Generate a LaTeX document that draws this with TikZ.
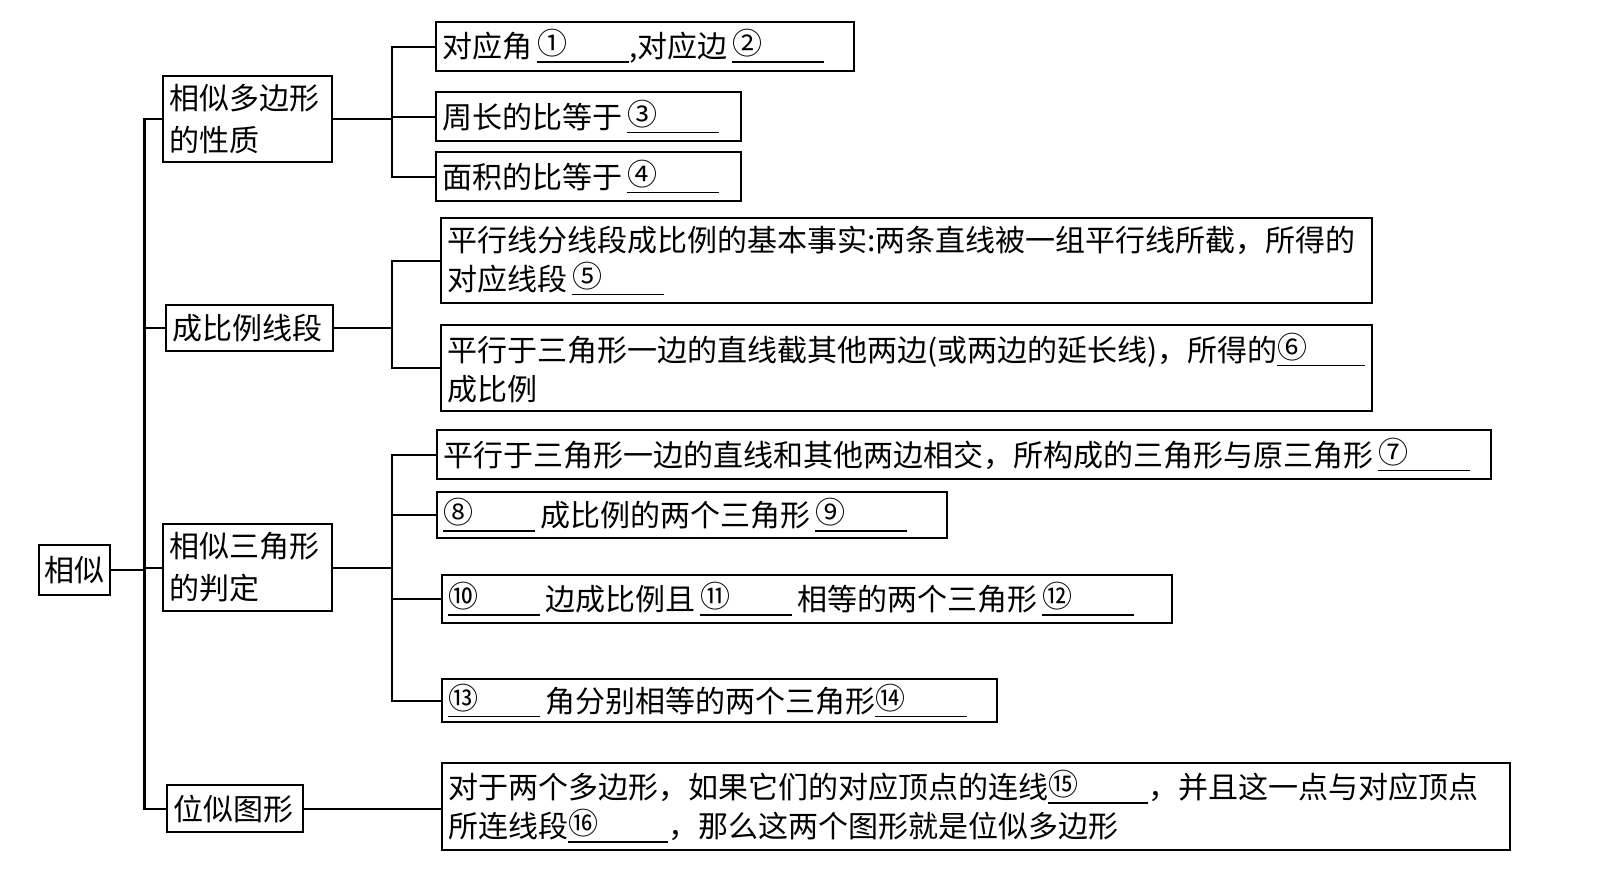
\documentclass[tikz,border=0pt]{standalone}
\usepackage{fontspec}
\setmainfont{Noto Sans CJK SC}
\newcommand\blank[2][46pt]{\rlap{\rule[-2.5pt]{#1}{0.8pt}}\makebox[#1][l]{\raisebox{1.5pt}{#2}}}
\begin{document}
\begin{tikzpicture}[x=0.5pt,y=-0.5pt,
  box/.style={draw, line width=1.1pt, inner xsep=3pt, inner ysep=0pt, anchor=north west, align=left,
    font=\fontsize{15pt}{19.5pt}\selectfont},
  conn/.style={line width=1.1pt}]
\fill[white] (0,0) rectangle (1618,873);
\useasboundingbox (0,0) rectangle (1618,873);
% level 0 and 1
\node[box, inner xsep=1pt, align=center, minimum width=35.5pt, minimum height=25pt] (root) at (38,544) {相似};
\node[box, text width=78.5pt, minimum height=43pt, font=\fontsize{15pt}{21pt}\selectfont] (p1) at (162,75) {相似多边形\\的性质};
\node[box, text width=77.5pt, minimum height=23pt] (p2) at (165,304) {成比例线段};
\node[box, text width=78.5pt, minimum height=43.5pt, font=\fontsize{15pt}{21pt}\selectfont] (p3) at (162,523) {相似三角形\\的判定};
\node[box, text width=62pt, minimum height=23.5pt] (p4) at (166,784) {位似图形};
% level 2
\node[box, text width=203pt, minimum height=24.5pt] (a1) at (435,21) {对应角\,\blank{①},对应边\,\blank{②}};
\node[box, text width=146.5pt, minimum height=24.5pt] (a2) at (435,91) {周长的比等于\,\blank{③}};
\node[box, text width=146.5pt, minimum height=24.5pt] (a3) at (435,151) {面积的比等于\,\blank{④}};
\node[box, text width=459.5pt, minimum height=42.5pt] (b1) at (440,217) {平行线分线段成比例的基本事实:两条直线被一组平行线所截，所得的\\对应线段\,\blank{⑤}};
\node[box, text width=459.5pt, minimum height=43pt] (b2) at (440,324) {平行于三角形一边的直线截其他两边(或两边的延长线)，所得的\blank[44pt]{⑥}\\成比例};
\node[box, text width=521pt, minimum height=24.5pt] (c1) at (436,429) {平行于三角形一边的直线和其他两边相交，所构成的三角形与原三角形\,\blank{⑦}};
\node[box, text width=249pt, minimum height=23pt] (c2) at (436,491) {\blank{⑧}\,成比例的两个三角形\,\blank{⑨}};
\node[box, text width=359pt, minimum height=24pt] (c3) at (441,574) {\blank{⑩}\,边成比例且\,\blank{⑪}\,相等的两个三角形\,\blank{⑫}};
\node[box, text width=271.5pt, minimum height=21.5pt] (c4) at (441,678) {\blank{⑬}\,角分别相等的两个三角形\blank{⑭}};
\node[box, text width=528pt, minimum height=43.5pt] (d1) at (441,762) {对于两个多边形，如果它们的对应顶点的连线\blank[50pt]{⑮}，并且这一点与对应顶点\\所连线段\blank[50pt]{⑯}，那么这两个图形就是位似多边形};
% spines
\coordinate (s0) at (144.5,0);
\coordinate (s1) at (392,0);
\draw[conn] (p1.west) -- (p1.west -| s0) -- (p4.west -| s0) -- (p4.west);
\draw[conn] (root.east) -- (root.east -| s0);
\draw[conn] (p2.west) -- (p2.west -| s0);
\draw[conn] (p3.west) -- (p3.west -| s0);
% group 1
\draw[conn] (a1.west) -- (a1.west -| s1) -- (a3.west -| s1) -- (a3.west);
\draw[conn] (p1.east) -- (p1.east -| s1);
\draw[conn] (a2.west) -- (a2.west -| s1);
% group 2
\draw[conn] (b1.west) -- (b1.west -| s1) -- (b2.west -| s1) -- (b2.west);
\draw[conn] (p2.east) -- (p2.east -| s1);
% group 3
\draw[conn] (c1.west) -- (c1.west -| s1) -- (c4.west -| s1) -- (c4.west);
\draw[conn] (p3.east) -- (p3.east -| s1);
\draw[conn] (c2.west) -- (c2.west -| s1);
\draw[conn] (c3.west) -- (c3.west -| s1);
% group 4
\draw[conn] (p4.east) -- (p4.east -| d1.west);
\end{tikzpicture}
\end{document}
